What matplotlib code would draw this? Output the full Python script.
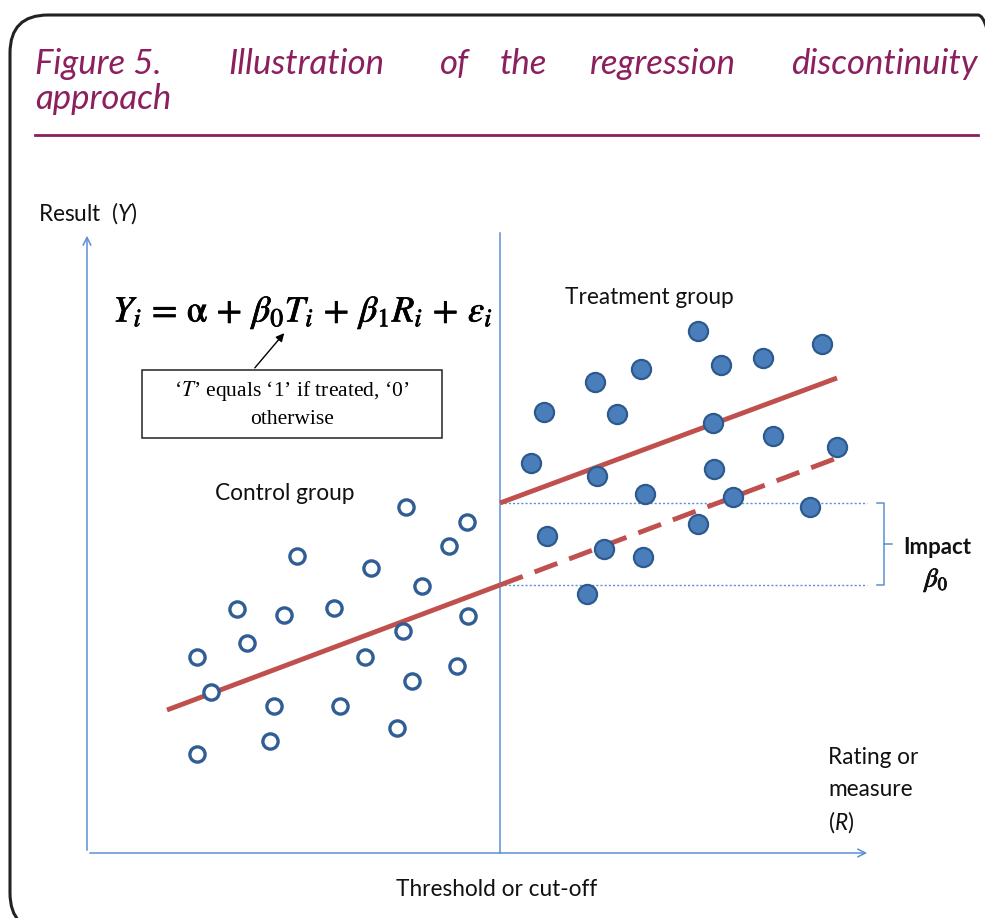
import matplotlib
matplotlib.use('Agg')
import matplotlib.pyplot as plt
import matplotlib.patheffects as pe
from matplotlib.patches import FancyBboxPatch, Rectangle
from matplotlib.transforms import IdentityTransform

# Control group (open circles): rating R, result Y
control_R = [319, 380, 362, 210, 284, 335, 150, 197, 247, 381, 316,
             160, 110, 278, 370, 325, 124, 187, 253, 310, 183, 110]
control_Y = [346, 331, 307, 297, 285, 267, 244, 238, 245, 237, 222,
             210, 196, 196, 187, 172, 161, 147, 147, 125, 112, 99]

# Treatment group (filled dots)
treat_R = [611, 735, 676, 634, 554, 508, 457, 530, 626, 686, 750,
           444, 627, 510, 558, 646, 723, 611, 460, 517, 556, 500]
treat_Y = [522, 509, 495, 488, 484, 471, 441, 439, 430, 417, 406,
           390, 384, 377, 359, 356, 346, 329, 317, 304, 296, 259]

threshold = 413
# fitted lines (end points)
control_fit_R = [80, 413]
control_fit_Y = [143, 268]
counterfactual_R = [413, 750]
counterfactual_Y = [268, 395]
treat_fit_R = [413, 750]
treat_fit_Y = [350, 475]

plt.rcParams['mathtext.fontset'] = 'custom'
plt.rcParams['mathtext.rm'] = 'Lato'
plt.rcParams['mathtext.it'] = 'Lato:italic'

W, H = 985, 918
fig = plt.figure(figsize=(W / 100, H / 100), dpi=100)

# overlay in pixel coordinates for the frame and text
ov = fig.add_axes([0, 0, 1, 1])
ov.set_xlim(0, W)
ov.set_ylim(H, 0)
ov.axis('off')

maroon = '#8c1f5e'
blue_axis = '#5b8fd6'
red = '#c0504d'

# rounded frame, drawn in pixels (runs off the right and bottom edges)
frame = FancyBboxPatch((10, H - 931), 1006, 916, boxstyle='round,pad=0,rounding_size=38',
                       fill=False, ec='#222222', lw=2.2, transform=IdentityTransform())
fig.patches.append(frame)

# justified title
title_words = ['Figure 5.', 'Illustration', 'of', 'the', 'regression']
title_x = [35, 228, 440, 500, 590]
for wd, x in zip(title_words, title_x):
    ov.text(x, 64, wd, fontsize=25, family='Lato', style='italic', color=maroon,
            ha='left', va='center')
ov.text(978, 64, 'discontinuity', fontsize=25, family='Lato', style='italic',
        color=maroon, ha='right', va='center')
ov.text(35, 99, 'approach', fontsize=25, family='Lato', style='italic', color=maroon,
        ha='left', va='center')
ov.plot([35, 978], [135, 135], color=maroon, lw=2)

# chart axes
ax = fig.add_axes([87 / W, (H - 853) / H, (868 - 87) / W, (853 - 235) / H])
ax.set_xlim(0, 781)
ax.set_ylim(0, 618)
ax.axis('off')

ax.annotate('', xy=(0, 620), xytext=(0, 0), annotation_clip=False,
            arrowprops=dict(arrowstyle='->', color=blue_axis, lw=1.1, mutation_scale=14))
ax.annotate('', xy=(783, 0), xytext=(0, 0), annotation_clip=False,
            arrowprops=dict(arrowstyle='->', color=blue_axis, lw=1.1, mutation_scale=14))
ax.plot([threshold, threshold], [0, 620], color=blue_axis, lw=1.1, clip_on=False)

# impact band
for yv in [treat_fit_Y[0], control_fit_Y[1]]:
    ax.plot([threshold, 780], [yv, yv], color=blue_axis, lw=1, ls=(0, (1.5, 1.5)))

ax.plot(control_fit_R, control_fit_Y, color=red, lw=3.5, solid_capstyle='butt')
ax.plot(treat_fit_R, treat_fit_Y, color=red, lw=3.5, solid_capstyle='butt')
ax.plot(counterfactual_R, counterfactual_Y, color=red, lw=3.5, ls=(0, (5, 2.6)))

ax.scatter(control_R, control_Y, s=120, facecolor='white', edgecolor='#2f5d94',
           linewidths=2.4, zorder=3)
ax.scatter(treat_R, treat_Y, s=190, facecolor='#4a7ebb', edgecolor='#2c5a8f',
           linewidths=1.6, zorder=3)

# bracket for the impact
bx = 797
b_top, b_bot = treat_fit_Y[0], control_fit_Y[1]
ax.plot([bx - 7, bx, bx, bx - 7], [b_top, b_top, b_bot, b_bot], color=blue_axis, lw=1.1,
        clip_on=False)
mid = (b_top + b_bot) / 2
ax.plot([bx, bx + 8], [mid, mid], color=blue_axis, lw=1.1, clip_on=False)

# labels
lab = dict(family='Lato', fontsize=16.3, color='#111111')
ov.text(38, 213, r'Result  ($\mathit{Y}$)', ha='left', va='center', **lab)
ov.text(565, 298, 'Treatment group', ha='left', va='center', **lab)
ov.text(215, 493, 'Control group', ha='left', va='center', **lab)
ov.text(497, 890, 'Threshold or cut-off', ha='center', va='center', **lab)
ov.text(828, 757, 'Rating or', ha='left', va='center', **lab)
ov.text(828, 789, 'measure', ha='left', va='center', **lab)
ov.text(828, 822, r'($\mathit{R}$)', ha='left', va='center', **lab)
ov.text(903, 548, 'Impact', ha='left', va='center', family='Lato', fontsize=16,
        fontweight='bold', color='#111111')
ov.text(937, 580, r'$\beta_0$', ha='center', va='center', fontsize=19, color='#111111',
        math_fontfamily='stix',
        path_effects=[pe.withStroke(linewidth=0.6, foreground='#111111')])

# equation
ov.text(113, 312,
        r'$Y_i\, =\, \mathrm{\alpha}\, +\, \beta_0 T_i\, +\, \beta_1 R_i\, +\, \varepsilon_i$',
        ha='left', va='center', fontsize=26.5, color='black', math_fontfamily='stix',
        path_effects=[pe.withStroke(linewidth=0.5, foreground='black')])

# note box
ov.add_patch(Rectangle((142, 370), 300, 68, fill=False, ec='#222222', lw=1.1))
ov.text(292, 391, '\u2018$T$\u2019 equals \u20181\u2019 if treated, \u20180\u2019',
        ha='center', va='center', family='Liberation Serif', fontsize=15.5,
        math_fontfamily='stix')
ov.text(292, 419, 'otherwise', ha='center', va='center', family='Liberation Serif',
        fontsize=15.5)
ov.annotate('', xy=(286, 331), xytext=(253, 370),
            arrowprops=dict(arrowstyle='-|>', color='black', lw=1, mutation_scale=12))

fig.savefig('out.png', dpi=100)
